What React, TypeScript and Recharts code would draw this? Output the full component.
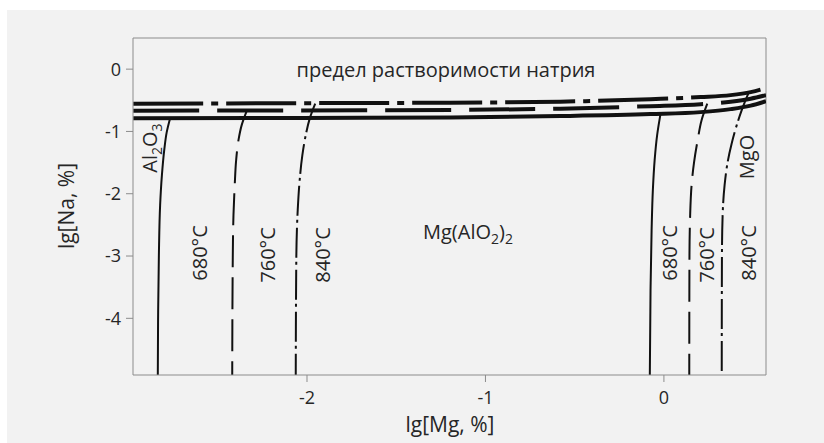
import React from "react";
import { ComposedChart, Line, XAxis, YAxis, ReferenceLine } from "recharts";

type Pt = [number, number];

// [lg Mg, lg Na] pairs
// sodium solubility limit at each temperature
const limit680: Pt[] = [
  [-2.974, -0.787], [-2.037, -0.783], [-1.196, -0.775], [-0.58, -0.754],
  [-0.075, -0.722], [0.206, -0.69], [0.374, -0.642], [0.486, -0.586], [0.572, -0.514],
];
const limit760: Pt[] = [
  [-2.974, -0.666], [-2.037, -0.663], [-1.196, -0.655], [-0.58, -0.634],
  [-0.075, -0.594], [0.206, -0.562], [0.374, -0.522], [0.486, -0.474], [0.572, -0.417],
];
const limit840: Pt[] = [
  [-2.974, -0.554], [-2.037, -0.546], [-1.196, -0.538], [-0.58, -0.522],
  [-0.075, -0.482], [0.206, -0.449], [0.374, -0.417], [0.486, -0.369], [0.572, -0.305],
];

// Al2O3 / Mg(AlO2)2 boundary
const alo680: Pt[] = [
  [-2.767, -0.787], [-2.786, -1.011], [-2.8, -1.3], [-2.813, -1.701],
  [-2.823, -2.183], [-2.83, -2.986], [-2.834, -3.868], [-2.836, -4.912],
];
const alo760: Pt[] = [
  [-2.337, -0.666], [-2.366, -0.899], [-2.384, -1.14], [-2.397, -1.461],
  [-2.405, -1.862], [-2.412, -2.343], [-2.416, -3.066], [-2.419, -4.912],
];
const alo840: Pt[] = [
  [-1.954, -0.554], [-1.984, -0.787], [-2.007, -1.059], [-2.026, -1.38],
  [-2.041, -1.782], [-2.052, -2.263], [-2.06, -3.066], [-2.063, -4.912],
];

// Mg(AlO2)2 / MgO boundary
const mgo680: Pt[] = [
  [-0.019, -0.719], [-0.038, -1.059], [-0.052, -1.461], [-0.062, -1.942],
  [-0.069, -2.584], [-0.075, -3.547], [-0.079, -4.912],
];
const mgo760: Pt[] = [
  [0.243, -0.554], [0.211, -0.819], [0.189, -1.14], [0.169, -1.493],
  [0.155, -1.862], [0.147, -2.343], [0.143, -3.066], [0.142, -4.912],
];
const mgo840: Pt[] = [
  [0.475, -0.377], [0.436, -0.658], [0.408, -0.899], [0.38, -1.188], [0.357, -1.493],
  [0.34, -1.862], [0.329, -2.343], [0.325, -3.066], [0.324, -4.912],
];

const xTicks = [-2, -1, 0];
const yTicks = [-4, -3, -2, -1, 0];
const X_DOMAIN: [number, number] = [-2.975, 0.572];
const Y_DOMAIN: [number, number] = [-4.91, 0.5];

const toRows = (pts: Pt[]) => pts.map(([x, y]) => ({ x, y }));

const AXIS = "#8c8c8c";
const INK = "#111";
const TEXT = "#262626";
const FONT = "'Open Sans', sans-serif";

const DASH_H = "66 18";
const DASHDOT_H = "70 8 7 8";
const DASH_V = "32 10";
const DASHDOT_V = "30 4 3 5";

function VLabel({ x, y, children }: { x: number; y: number; children: React.ReactNode }) {
  return (
    <text
      transform={`translate(${x},${y}) rotate(-90)`}
      textAnchor="middle"
      fontSize={20}
      fill={TEXT}
      fontFamily={FONT}
    >
      {children}
    </text>
  );
}

export default function App() {
  const lineProps = { dataKey: "y", dot: false, activeDot: false, isAnimationActive: false, stroke: INK } as const;
  const tick = { fill: TEXT, fontSize: 18, fontFamily: FONT };

  return (
    <>
      <div style={{ position: "absolute", left: 7, top: 10, width: 817, height: 433, background: "#f2f2f2" }} />
      <div style={{ position: "absolute", left: 0, top: 0 }}>
        <ComposedChart width={824} height={443} margin={{ top: 38, right: 58, bottom: 38, left: 73 }}>
          <XAxis
            dataKey="x"
            type="number"
            domain={X_DOMAIN}
            allowDataOverflow
            ticks={xTicks}
            tick={tick}
            tickSize={7}
            tickMargin={9}
            stroke={AXIS}
            height={30}
          />
          <YAxis
            type="number"
            domain={Y_DOMAIN}
            allowDataOverflow
            ticks={yTicks}
            tick={tick}
            tickSize={7}
            tickMargin={5}
            stroke={AXIS}
            width={60}
          />
          {/* frame: top and right edges */}
          <ReferenceLine y={Y_DOMAIN[1]} stroke={AXIS} strokeWidth={1} />
          <ReferenceLine x={X_DOMAIN[1]} stroke={AXIS} strokeWidth={1} />

          <Line {...lineProps} data={toRows(alo680)} type="monotoneY" strokeWidth={2} />
          <Line {...lineProps} data={toRows(alo760)} type="monotoneY" strokeWidth={2} strokeDasharray={DASH_V} />
          <Line {...lineProps} data={toRows(alo840)} type="monotoneY" strokeWidth={2} strokeDasharray={DASHDOT_V} />
          <Line {...lineProps} data={toRows(mgo680)} type="monotoneY" strokeWidth={2} />
          <Line {...lineProps} data={toRows(mgo760)} type="monotoneY" strokeWidth={2} strokeDasharray={DASH_V} />
          <Line {...lineProps} data={toRows(mgo840)} type="monotoneY" strokeWidth={2} strokeDasharray={DASHDOT_V} />

          <Line {...lineProps} data={toRows(limit680)} type="monotoneX" strokeWidth={4} />
          <Line {...lineProps} data={toRows(limit760)} type="monotoneX" strokeWidth={4} strokeDasharray={DASH_H} />
          <Line {...lineProps} data={toRows(limit840)} type="monotoneX" strokeWidth={4} strokeDasharray={DASHDOT_H} />

          <text x={446} y={77} textAnchor="middle" fontSize={20} fill={TEXT} fontFamily={FONT}>
            предел растворимости натрия
          </text>
          <text x={423} y={239} fontSize={20} fill={TEXT} fontFamily={FONT}>
            Mg(AlO<tspan fontSize={14} dy={5}>2</tspan>
            <tspan dy={-5}>)</tspan>
            <tspan fontSize={14} dy={5}>2</tspan>
          </text>
          <VLabel x={157} y={148}>
            Al<tspan fontSize={14} dy={5}>2</tspan>
            <tspan dy={-5}>O</tspan>
            <tspan fontSize={14} dy={5}>3</tspan>
          </VLabel>
          <VLabel x={754} y={157}>MgO</VLabel>
          <VLabel x={207} y={253}>680°C</VLabel>
          <VLabel x={275} y={255}>760°C</VLabel>
          <VLabel x={330} y={255}>840°C</VLabel>
          <VLabel x={677} y={253}>680°C</VLabel>
          <VLabel x={714} y={255}>760°C</VLabel>
          <VLabel x={756} y={253}>840°C</VLabel>

          <text x={450} y={432} textAnchor="middle" fontSize={21} fill={TEXT} fontFamily={FONT}>
            lg[Mg, %]
          </text>
          <text transform="translate(74,206) rotate(-90)" textAnchor="middle" fontSize={21} fill={TEXT} fontFamily={FONT}>
            lg[Na, %]
          </text>
        </ComposedChart>
      </div>
    </>
  );
}
